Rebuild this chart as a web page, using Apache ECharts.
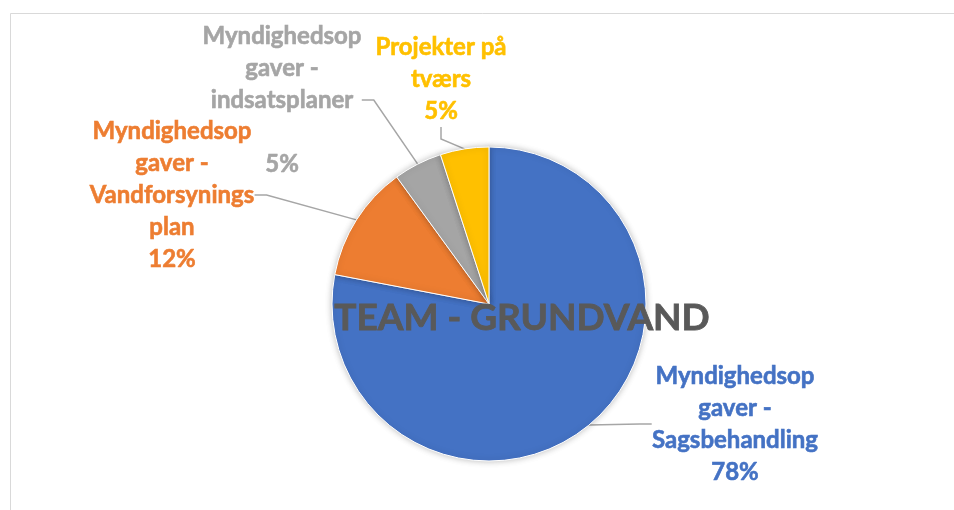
<!DOCTYPE html>
<html lang="da">
<head>
    <meta charset="UTF-8">
    <title>Team - Grundvand</title>
    <script src="https://cdn.jsdelivr.net/npm/echarts@6/dist/echarts.min.js"></script>
    <style>
        html, body { margin: 0; padding: 0; background: #fff; }
        #main { width: 954px; height: 510px; }
    </style>
</head>
<body>
<div id="main"></div>
<script type="text/javascript">
    // data
    var categories = [
        'Myndighedsopgaver - Sagsbehandling',
        'Myndighedsopgaver - Vandforsyningsplan',
        'Myndighedsopgaver - indsatsplaner',
        'Projekter på tværs'
    ];
    var labelNames = [
        'Myndighedsop\ngaver -\nSagsbehandling',
        'Myndighedsop\ngaver -\nVandforsynings\nplan',
        'Myndighedsop\ngaver -\nindsatsplaner\n',
        'Projekter på\ntværs'
    ];
    var values = [78, 12, 5, 5];
    var colors = ['#4472C4', '#ED7D31', '#A5A5A5', '#FFC000'];
    // where each label sits (centre x, centre y)
    var labelPos = [[735, 424], [172, 195], [282, 100], [441, 79]];

    var pieData = [];
    for (var i = 0; i < categories.length; i++) {
        pieData.push({
            name: categories[i],
            value: values[i],
            itemStyle: {color: colors[i]},
            label: {color: colors[i], textBorderColor: colors[i]}
        });
    }

    var myChart = echarts.init(document.getElementById('main'));

    var option = {
        backgroundColor: '#fff',
        animation: false,
        graphic: [
            {
                type: 'rect',
                z: 0,
                shape: {x: 10.5, y: 13.5, width: 1000, height: 600},
                style: {fill: 'none', stroke: '#d9d9d9', lineWidth: 1}
            },
            {
                type: 'text',
                z: 100,
                x: 522,
                y: 318,
                style: {
                    text: 'TEAM - GRUNDVAND',
                    fill: '#595959',
                    stroke: '#595959',
                    lineWidth: 0.8,
                    font: 'bold 37px Lato',
                    textAlign: 'center',
                    textVerticalAlign: 'middle'
                }
            }
        ],
        series: [
            {
                type: 'pie',
                center: [489, 304],
                radius: 157,
                startAngle: 90,
                clockwise: true,
                avoidLabelOverlap: false,
                data: pieData,
                itemStyle: {
                    borderColor: '#fff',
                    borderWidth: 1,
                    shadowBlur: 6,
                    shadowColor: 'rgba(0,0,0,0.25)'
                },
                label: {
                    show: true,
                    position: 'outside',
                    fontFamily: 'Lato',
                    fontWeight: 'bold',
                    fontSize: 24,
                    lineHeight: 32,
                    align: 'center',
                    textBorderWidth: 0.6,
                    formatter: function (p) {
                        return labelNames[p.dataIndex] + '\n' + Math.round(p.percent) + '%';
                    }
                },
                labelLine: {
                    show: true,
                    length: 20,
                    length2: 12,
                    lineStyle: {color: '#A6A6A6', width: 1.5}
                },
                labelLayout: function (params) {
                    var pos = labelPos[params.dataIndex];
                    return {
                        x: pos[0],
                        y: pos[1],
                        align: 'center',
                        verticalAlign: 'middle'
                    };
                },
                emphasis: {disabled: true}
            }
        ]
    };

    myChart.setOption(option);
</script>
</body>
</html>
